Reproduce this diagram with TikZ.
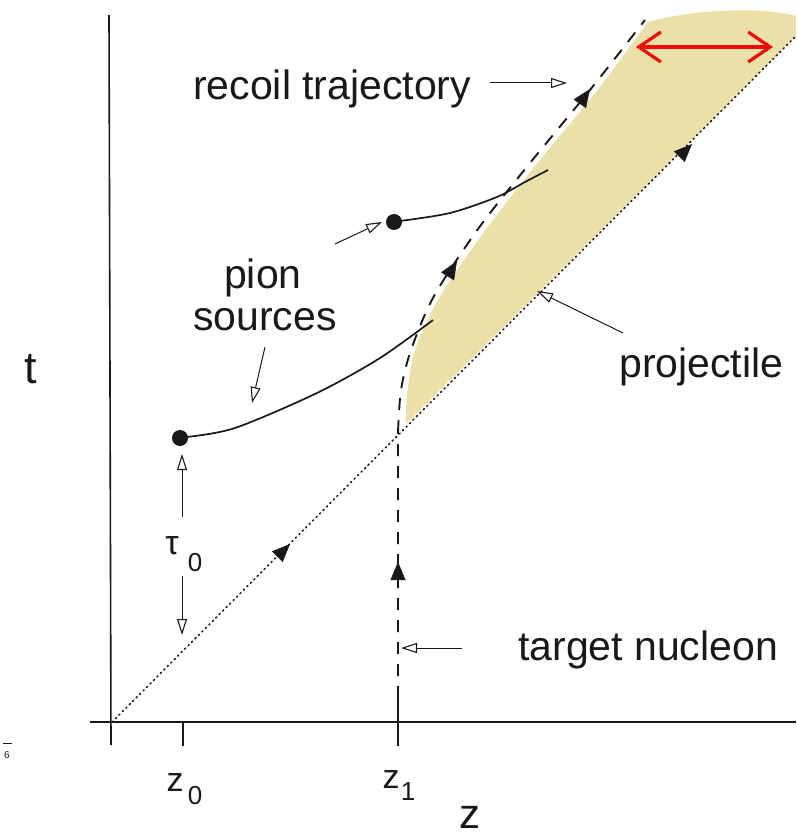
\documentclass[tikz,border=0pt]{standalone}
\usepackage{fontspec}
\setmainfont{Liberation Sans}
\usetikzlibrary{arrows.meta}
\definecolor{ink}{RGB}{25,25,25}
\definecolor{projfill}{RGB}{235,225,168}
\definecolor{redarrow}{RGB}{240,10,10}
\tikzset{
  axisline/.style={draw=ink, line width=1.6pt},
  dottedline/.style={draw=ink, line width=1.6pt, dash pattern=on 1.3pt off 3.6pt, line cap=round},
  dashedline/.style={draw=ink, line width=1.9pt, dash pattern=on 12pt off 10pt},
  worldline/.style={draw=ink, line width=1.7pt},
  pointer/.style={draw=ink, line width=1pt, -{Triangle[open, length=16pt, width=10pt, line width=1.1pt]}},
  fulltip/.style={draw=ink, line width=0.5pt, -{Triangle[length=18pt, width=15pt]}},
  lab/.style={inner sep=0pt, text=ink, font=\fontsize{41}{46}\selectfont},
  srcdot/.style={circle, fill=ink, inner sep=0pt, minimum size=16pt},
}
\begin{document}
\begin{tikzpicture}[x=1pt,y=-1pt]
\useasboundingbox (0,0) rectangle (796,837);
% projectile region
\fill[projfill] plot[smooth] coordinates {(406,424) (407,395) (415,350) (439,298) (484,232) (536,165) (596,92) (648,22)}
  .. controls (690,10) and (760,6) .. (796,16) -- (796,36) -- cycle;
% axes
\coordinate (ytop) at (109,15);
\coordinate (ybot) at (111,745);
\coordinate (xl) at (90,722);
\coordinate (xr) at (796,722);
\draw[axisline] (ytop) -- (ybot);
\draw[axisline] (xl) -- (xr);
\coordinate (z0a) at (183,722); \coordinate (z0b) at (183,746);
\coordinate (z1a) at (398,698); \coordinate (z1b) at (398,746);
\draw[axisline] (z0a) -- (z0b);
\draw[axisline] (z1a) -- (z1b);
% projectile dotted line
\coordinate (orig) at (112,722);
\coordinate (ptop) at (796,36);
\draw[dottedline] (orig) -- (ptop);
\coordinate (pa1) at (278,556); \coordinate (pa1t) at (290,544);
\draw[fulltip] (pa1) -- (pa1t);
\coordinate (pa2) at (680,156); \coordinate (pa2t) at (692,144);
\draw[fulltip] (pa2) -- (pa2t);
% target nucleon / recoil dashed line
\coordinate (tbot) at (398,720);
\draw[dashedline] (tbot) -- (398,432) plot[smooth] coordinates {(398,432) (401,390) (411,350) (434,296) (478,229) (530,163) (590,90) (645,20)};
\coordinate (ta1) at (398,578); \coordinate (ta1t) at (398,562);
\draw[fulltip] (ta1) -- (ta1t);
\coordinate (ta2) at (449,274); \coordinate (ta2t) at (457,261);
\draw[fulltip] (ta2) -- (ta2t);
\coordinate (ta3) at (581,102); \coordinate (ta3t) at (590,89);
\draw[fulltip] (ta3) -- (ta3t);
% pion sources
\node[srcdot] (s1) at (180,438) {};
\node[srcdot] (s2) at (394,222) {};
\draw[worldline] (s1.east) plot[smooth] coordinates {(186,437) (235,428) (317,393) (380,358) (433,320)};
\draw[worldline] (s2.east) plot[smooth] coordinates {(400,221) (450,213) (497,197) (525,182) (548,170)};
% red double arrow
\coordinate (ra) at (636,47);
\coordinate (rb) at (773,47);
\draw[draw=redarrow, line width=3.2pt, {Straight Barb[length=22pt, width=30pt, line width=3.2pt]}-{Straight Barb[length=22pt, width=30pt, line width=3.2pt]}] (ra) -- (rb);
% labels
\node[lab, anchor=base west] (rec) at (193,100) {recoil trajectory};
\node[lab, anchor=base west] (pion) at (224,288) {pion};
\node[lab, anchor=base west] (sources) at (193,330) {sources};
\node[lab, anchor=base west] (proj) at (619,377) {projectile};
\node[lab, anchor=base west] (targ) at (518,660) {target nucleon};
\node[inner sep=0pt, text=ink, font=\fontsize{45}{50}\selectfont] (tlab) at (31,369) {t};
\node[inner sep=0pt, text=ink, font=\fontsize{34}{40}\selectfont] (tau) at (172,546) {τ};
\node[inner sep=0pt, text=ink, font=\fontsize{26}{30}\selectfont] (tau0) at (195,563) {0};
\node[inner sep=0pt, text=ink, font=\fontsize{34}{40}\selectfont] (z0) at (175,783) {z};
\node[inner sep=0pt, text=ink, font=\fontsize{26}{30}\selectfont] (z0s) at (195,796) {0};
\node[inner sep=0pt, text=ink, font=\fontsize{34}{40}\selectfont] (z1) at (391,780) {z};
\node[inner sep=0pt, text=ink, font=\fontsize{26}{30}\selectfont] (z1s) at (408,792) {1};
\node[inner sep=0pt, text=ink, font=\fontsize{42}{46}\selectfont] (zax) at (470,817) {z};
\node[inner sep=0pt, text=ink, font=\fontsize{10}{12}\selectfont] (six) at (7,755) {6};
\coordinate (sixa) at (3,743); \coordinate (sixb) at (12,743);
\draw[ink, line width=1pt] (sixa) -- (sixb);
% pointers
\coordinate (recA) at (490,83); \coordinate (recB) at (567,83);
\draw[pointer] (recA) -- (recB);
\coordinate (ps2A) at (335,244); \coordinate (ps2B) at (382,222);
\draw[pointer] (ps2A) -- (ps2B);
\coordinate (ps1A) at (265,347); \coordinate (ps1B) at (252,403);
\draw[pointer] (ps1A) -- (ps1B);
\coordinate (prA) at (623,333); \coordinate (prB) at (537,291);
\draw[pointer] (prA) -- (prB);
\coordinate (tgA) at (462,648); \coordinate (tgB) at (401,648);
\draw[pointer] (tgA) -- (tgB);
\coordinate (tauUA) at (182,517); \coordinate (tauUB) at (182,454);
\draw[pointer] (tauUA) -- (tauUB);
\coordinate (tauDA) at (182,576); \coordinate (tauDB) at (182,635);
\draw[pointer] (tauDA) -- (tauDB);
\end{tikzpicture}
\end{document}
